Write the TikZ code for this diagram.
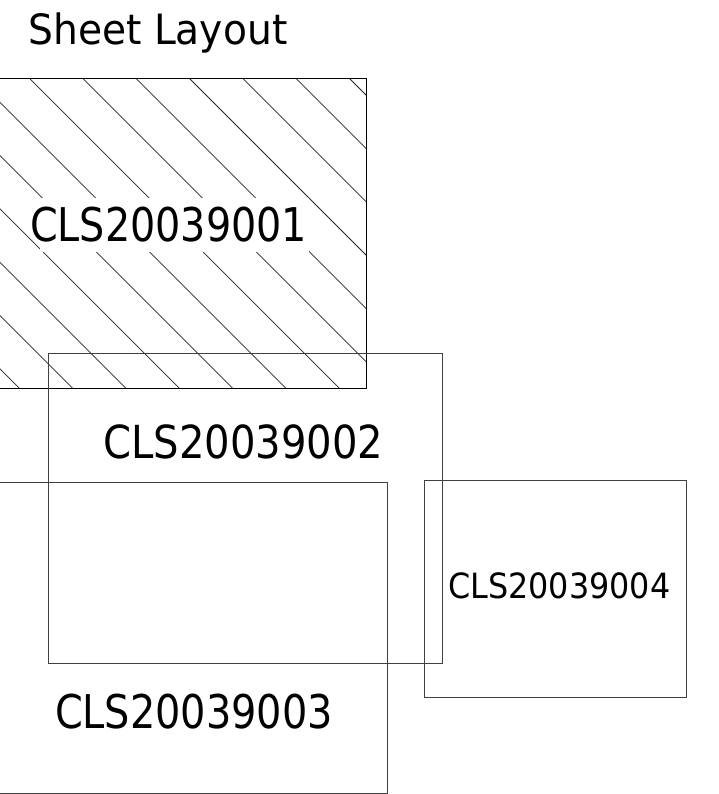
\documentclass[tikz,border=0pt]{standalone}
\usepackage{fontspec}
\setmainfont{DejaVu Sans}
\usepackage{graphicx}
\tikzset{
  frameline/.style={draw=black, line width=1pt},
  grayframe/.style={draw=black!75, line width=1pt},
  hatchline/.style={draw=black!85, line width=0.75pt},
  lbl/.style={anchor=base west, inner sep=0pt, outer sep=0pt},
}
\begin{document}
\begin{tikzpicture}[x=1pt,y=-1pt]
\useasboundingbox (0,0) rectangle (718,794);
\clip (0,0) rectangle (718,794);
% sheet CLS20039001 (hatched)
\coordinate (r1a) at (-5,78.3);
\coordinate (r1b) at (366.7,388.3);
\begin{scope}
  \clip (r1a) rectangle (r1b);
  \foreach \k in {-7,...,7}
    \draw[hatchline] ({29.33+53.33*\k},78.3) -- ++(330,330);
\end{scope}
\fill[white] (40,198.3) rectangle (309,251.7);
\draw[frameline] (r1a) rectangle (r1b);
% other sheets
\coordinate (r2a) at (48.3,353.3);
\coordinate (r2b) at (442.3,663.3);
\draw[grayframe] (r2a) rectangle (r2b);
\coordinate (r3a) at (-5,482.7);
\coordinate (r3b) at (387.7,793.3);
\draw[grayframe] (r3a) rectangle (r3b);
\coordinate (r4a) at (424,480.7);
\coordinate (r4b) at (686.7,697.3);
\draw[grayframe] (r4a) rectangle (r4b);
% labels
\node[lbl] (title) at (28.3,45) {\resizebox{259pt}{31.7pt}{Sheet Layout}};
\node[lbl] (l1) at (30,241.7) {\resizebox{277pt}{34.5pt}{CLS20039001}};
\node[lbl] (l2) at (103.3,458.3) {\resizebox{280pt}{33.8pt}{CLS20039002}};
\node[lbl] (l3) at (55,728.3) {\resizebox{278pt}{34.5pt}{CLS20039003}};
\node[lbl] (l4) at (448.3,598.3) {\resizebox{222pt}{25.8pt}{CLS20039004}};
\end{tikzpicture}
\end{document}
